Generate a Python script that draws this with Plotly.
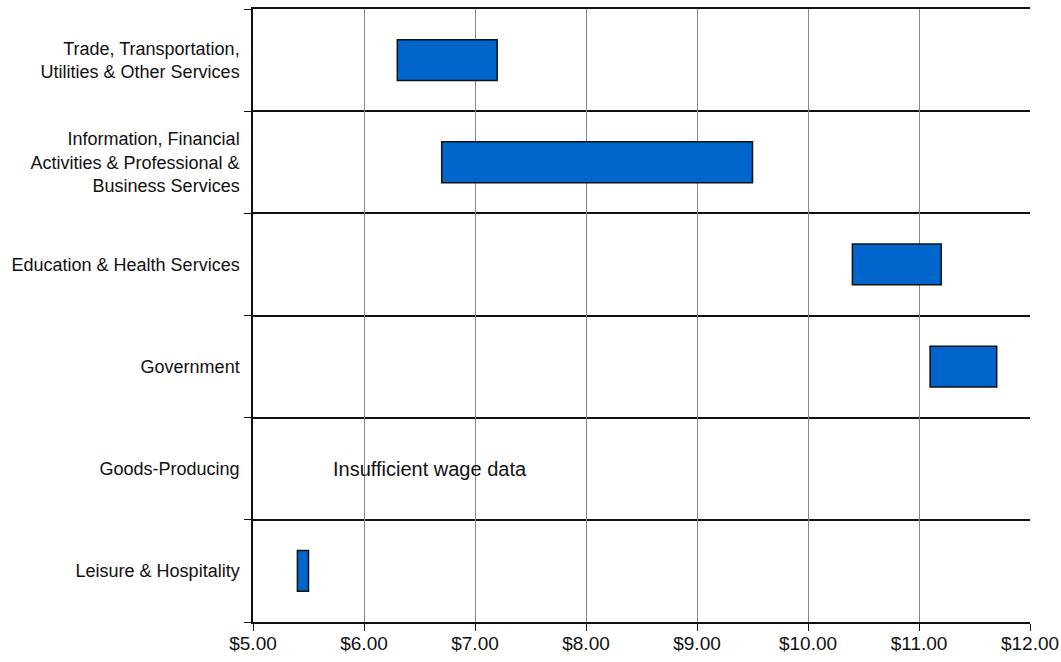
import plotly.graph_objects as go

# Industry sectors, listed top to bottom
sectors = [
    "Trade, Transportation,<br>Utilities & Other Services",
    "Information, Financial<br>Activities & Professional &<br>Business Services",
    "Education & Health Services",
    "Government",
    "Goods-Producing",
    "Leisure & Hospitality",
]
# Hourly wage range (low / high) per sector; None = no data
wage_low = [6.30, 6.70, 10.40, 11.10, None, 5.40]
wage_high = [7.20, 9.50, 11.20, 11.70, None, 5.50]

x_ticks = [5, 6, 7, 8, 9, 10, 11, 12]
x_labels = ["$5.00", "$6.00", "$7.00", "$8.00", "$9.00", "$10.00", "$11.00", "$12.00"]

rows = list(range(len(sectors)))
spans = [(h - l) if (h is not None and l is not None) else None for l, h in zip(wage_low, wage_high)]

fig = go.Figure(
    go.Bar(
        y=rows,
        x=spans,
        base=wage_low,
        orientation="h",
        width=0.4,
        marker=dict(color="#0066CC", line=dict(color="#111111", width=1.5)),
        hoverinfo="skip",
    )
)

fig.add_annotation(
    x=5.70, y=4, xref="x", yref="y",
    text="Insufficient wage data", showarrow=False, xanchor="left",
    font=dict(family="Liberation Sans, Arial, sans-serif", size=20, color="#111111"),
)

fig.update_layout(
    width=1061, height=662,
    margin=dict(l=253, r=31, t=9, b=40),
    plot_bgcolor="white", paper_bgcolor="white",
    showlegend=False,
    xaxis=dict(
        range=[5, 12], tickvals=x_ticks, ticktext=x_labels,
        showgrid=True, gridcolor="#888888", gridwidth=1,
        showline=True, linecolor="#111111", linewidth=1.5, mirror=True,
        ticks="outside", ticklen=7, tickcolor="#111111",
        ticklabelstandoff=-4,
        tickfont=dict(family="Liberation Sans, Arial, sans-serif", size=19, color="#111111"),
        zeroline=False, automargin=False,
    ),
    yaxis=dict(
        range=[5.5, -0.5], tickvals=rows, ticktext=sectors,
        ticks="", showgrid=False, zeroline=False,
        showline=True, linecolor="#111111", linewidth=1.5,
        ticklabelstandoff=8, automargin=False,
        tickfont=dict(family="Liberation Sans Narrow, Arial Narrow, Liberation Sans, sans-serif",
                      size=18, color="#111111"),
        minor=dict(tick0=-0.5, dtick=1, ticks="outside", ticklen=7, tickcolor="#111111",
                   showgrid=True, gridcolor="#111111", gridwidth=1.5),
    ),
)

fig.write_html("out.html")
